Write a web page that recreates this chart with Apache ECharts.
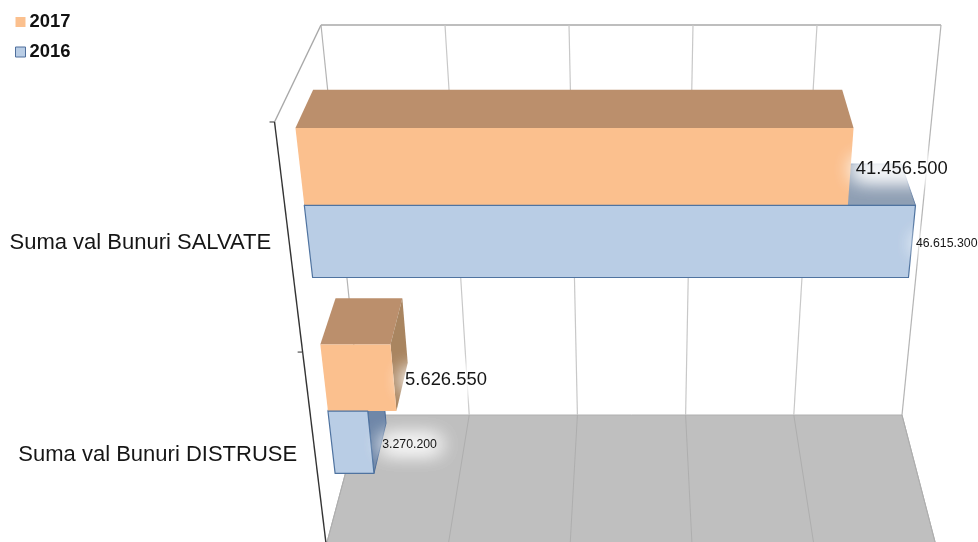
<!DOCTYPE html>
<html>
<head>
<meta charset="utf-8">
<style>html,body{margin:0;padding:0;background:#fff}#c{width:978px;height:542px}</style>
<script src="https://cdn.jsdelivr.net/npm/echarts@6/dist/echarts.min.js"></script>
</head>
<body>
<div id="c"></div>
<script>
const categories = ['Suma val Bunuri SALVATE', 'Suma val Bunuri DISTRUSE'];
const values2017 = [41456500, 5626550];
const values2016 = [46615300, 3270200];
const xTicks = [0, 10000000, 20000000, 30000000, 40000000, 50000000];

const FONT = '"Liberation Sans", Arial, sans-serif';
// Perspective camera: maps (value fraction, vertical fraction, depth) to the screen
const CAM = { ox: 321, oy: 25, w: 620, vpx: 635, vpcY: 3085, vpdY: -610, g: 0.14607, d: -0.1325 };
const BAR_SCALE = 1.004;
const AXIS_DX = 1.5;
const GLOW_OFFSET = 3000;
function project(vf, c, e) {
  const a = c * CAM.g, b = e * CAM.d, w = 1 + a + b;
  return [(CAM.ox + vf * CAM.w + CAM.vpx * (a + b)) / w,
          (CAM.oy + a * CAM.vpcY + b * CAM.vpdY) / w];
}
function frac(params, api, val, cat) {
  const cs = params.coordSys, p = api.coord([val, cat]);
  return [(p[0] - cs.x) / cs.width, (p[1] - cs.y) / cs.height];
}
const ln = (a, b, stroke, lw, z2) => ({ type: 'line', z2: z2 || 0,
  shape: { x1: a[0], y1: a[1], x2: b[0], y2: b[1] }, style: { stroke, lineWidth: lw } });
const poly = (pts, fill, stroke, lw, z2) => ({ type: 'polygon', z2,
  shape: { points: pts }, style: { fill, stroke: stroke || null, lineWidth: lw || 0, lineJoin: 'round' } });
const txt = (x, y, text, size, align, z2) => ({ type: 'text', z2, x, y,
  style: { text, font: size + 'px ' + FONT, fill: '#161616', align, verticalAlign: 'middle' } });

function renderFloor(params, api) {
  const l = frac(params, api, api.value(0), 0)[0], r = frac(params, api, api.value(1), 0)[0];
  const corner = project(l, 0, 1);
  return { type: 'group', children: [
    poly([project(l, 1, 0), project(r, 1, 0), project(r, 1, 1), project(l, 1, 1)], '#bfbfbf', '#b0b0b0', 1, 0),
    ln(project(l, 0, 0), project(r, 0, 0), '#a8a8a8', 1.4, 1),
    ln(project(l, 0, 0), [corner[0] + AXIS_DX, corner[1]], '#a8a8a8', 1.4, 1)
  ] };
}
function renderGrid(params, api) {
  const f = frac(params, api, api.value(0), 0)[0];
  const edge = params.dataIndex === 0 || params.dataIndex === xTicks.length - 1;
  return { type: 'group', children: [
    ln(project(f, 0, 0), project(f, 1, 0), edge ? '#b4b4b4' : '#c8c8c8', 1.2, 1),
    ln(project(f, 1, 0), project(f, 1, 1), '#aeaeae', 1, 1)
  ] };
}
function renderAxis(params, api) {
  const i = params.dataIndex;
  const mid = frac(params, api, 0, i)[1];
  const band = api.size([0, 1])[1] / params.coordSys.height;
  const start = mid - band / 2;
  const t = project(0, start, 1), b = project(0, start + band, 1), m = project(0, mid, 1);
  const tx = t[0] + AXIS_DX, bx = b[0] + AXIS_DX;
  return { type: 'group', children: [
    ln([tx, t[1]], [bx, b[1]], '#333333', 1.4, 6),
    ln([tx - 5, t[1]], [tx, t[1]], '#333333', 1, 6),
    txt(m[0] - 16.5, m[1] + 1, categories[i], 22, 'right', 6)
  ] };
}
const fmt = v => String(v).replace(/\B(?=(\d{3})+$)/g, '.');

function glow(x, y, w, h) {
  // soft white halo: only the blurred shadow of an off-canvas rectangle reaches the picture
  return { type: 'rect', z2: 8, shape: { x: x - GLOW_OFFSET, y, width: w, height: h, r: 6 },
    style: { fill: '#ffffff', shadowColor: '#ffffff', shadowBlur: 20, shadowOffsetX: GLOW_OFFSET } };
}
function bar(params, api, o) {
  const v = api.value(0), i = api.value(1);
  const vf = frac(params, api, v, i)[0] * BAR_SCALE;
  const mid = frac(params, api, 0, i)[1];
  const band = api.size([0, 1])[1] / params.coordSys.height;
  const c0 = mid + band * o.from, c1 = mid + band * o.to;
  const eF = 0.665, eB = 0.282;
  const ftl = project(0, c0, eF), ftr = project(vf, c0, eF), fbr = project(vf, c1, eF), fbl = project(0, c1, eF);
  const btl = project(0, c0, eB), btr = project(vf, c0, eB), bbr = project(vf, c1, eB);
  const fm = project(vf, (c0 + c1) / 2, eF), bm = project(vf, (c0 + c1) / 2, eB);
  const sideVisible = bm[0] > fm[0];
  const lx = sideVisible ? bm[0] : fm[0] + 5;
  const ly = fm[1] + 2;
  const label = fmt(v), w = label.length * 0.5 * o.font;
  const gx = lx - 2, gy = ly - o.font * 0.35 - 3, gw = w + 4, gh = o.font * 0.7 + 6;
  return { type: 'group', children: [
    poly([btl, btr, ftr, ftl], o.top, o.edge, o.edge ? 1 : 0, o.backZ),
    sideVisible ? poly([ftr, btr, bbr, fbr], o.side, o.sideEdge, o.sideEdge ? 1 : 0, o.backZ) : { type: 'group' },
    poly([ftl, ftr, fbr, fbl], o.front, o.frontEdge, o.frontEdge ? 1.2 : 0, o.frontZ),
    glow(gx, gy, gw, gh),
    glow(gx, gy, gw, gh),
    txt(lx - o.dx, ly, label, o.font, 'left', 9)
  ] };
}
const style2017 = { from: -0.324, to: 0.016, top: '#bb8f6c', side: '#a98560', front: '#fbc08e', font: 18.4, dx: 0, backZ: 4, frontZ: 4 };
const style2016 = { from: 0.016, to: 0.35, top: '#8f9fb4', side: '#6f87a8', front: '#b9cde5',
  edge: '#6a84a8', sideEdge: '#4a6a96', frontEdge: '#4f73a0', font: 12.3, dx: 1, backZ: 3, frontZ: 5 };

const common = { type: 'custom', xAxisIndex: 0, yAxisIndex: 0, silent: true, animation: false };
const option = {
  animation: false,
  backgroundColor: '#ffffff',
  grid: { left: 0, right: 0, top: 0, bottom: 0, show: false },
  xAxis: { type: 'value', min: 0, max: 50000000, interval: 10000000, show: false },
  yAxis: { type: 'category', data: categories, inverse: true, show: false },
  legend: {
    orient: 'vertical', left: 10, top: 8, itemWidth: 10, itemHeight: 10, itemGap: 12, selectedMode: false,
    textStyle: { fontFamily: FONT, fontWeight: 'bold', fontSize: 18.4, color: '#111', padding: [0, 0, 0, -1] },
    data: [
      { name: '2017', icon: 'rect', itemStyle: { color: '#fbc08e', borderWidth: 0 } },
      { name: '2016', icon: 'rect', itemStyle: { color: '#b9cde5', borderColor: '#4f6f9c', borderWidth: 1 } }
    ]
  },
  series: [
    Object.assign({}, common, { name: 'floor', z: 1, data: [[xTicks[0], xTicks[xTicks.length - 1]]], renderItem: renderFloor, encode: { x: 0 } }),
    Object.assign({}, common, { name: 'grid', z: 1, data: xTicks.map(v => [v]), renderItem: renderGrid, encode: { x: 0 } }),
    Object.assign({}, common, { name: 'axis', z: 1, data: categories.map((c, i) => [0, i]), renderItem: renderAxis, encode: { x: 0, y: 1 } }),
    Object.assign({}, common, { name: '2016', z: 2, itemStyle: { color: '#b9cde5' },
      data: values2016.map((v, i) => [v, i]), encode: { x: 0, y: 1 },
      renderItem: (p, a) => bar(p, a, style2016) }),
    Object.assign({}, common, { name: '2017', z: 2, itemStyle: { color: '#fbc08e' },
      data: values2017.map((v, i) => [v, i]), encode: { x: 0, y: 1 },
      renderItem: (p, a) => bar(p, a, style2017) })
  ]
};
const chart = echarts.init(document.getElementById('c'), null, { renderer: 'canvas', width: 978, height: 542 });
chart.setOption(option);
</script>
</body>
</html>
